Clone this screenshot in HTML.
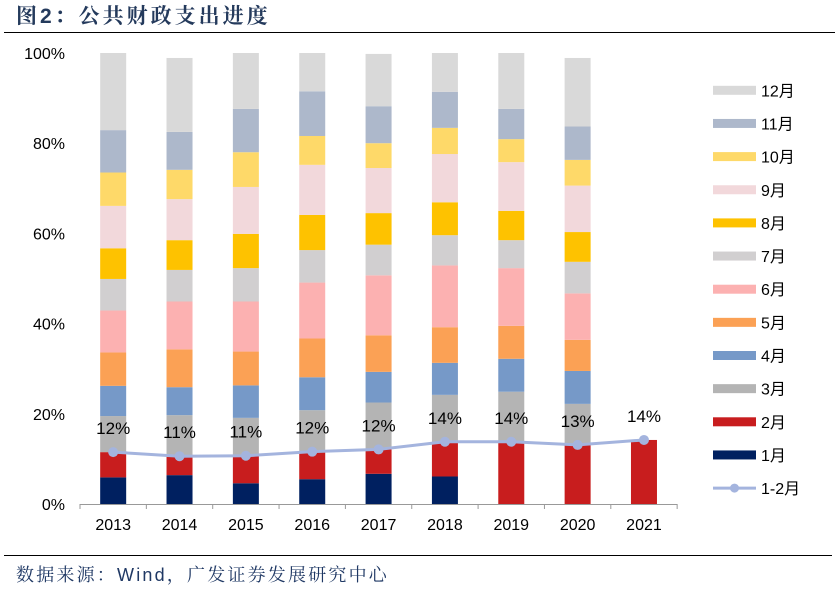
<!DOCTYPE html>
<html><head><meta charset="utf-8">
<style>
body{margin:0;background:#fff;}
#wrap{position:relative;width:835px;height:602px;overflow:hidden;font-family:"Liberation Sans","Noto Sans CJK SC",sans-serif;}
</style></head>
<body>
<div id="wrap">
<svg id="svg" width="835" height="602" xmlns="http://www.w3.org/2000/svg">
<text x="16" y="23" font-size="21" font-weight="bold" letter-spacing="3" fill="#243a5c" font-family="'Liberation Sans','Noto Serif CJK SC',serif">图2：公共财政支出进度</text>
<line x1="4" y1="32.5" x2="835" y2="32.5" stroke="#000" stroke-width="1"/>
<line x1="4" y1="555.5" x2="832" y2="555.5" stroke="#000" stroke-width="1"/>
<text x="16" y="581" font-size="18" letter-spacing="2.2" fill="#1f3864" font-family="'Liberation Sans','Noto Serif CJK SC',serif">数据来源：Wind，广发证券发展研究中心</text>
<g id="plot"></g>
</svg>
</div>
<script>
const years = ["2013","2014","2015","2016","2017","2018","2019","2020","2021"];
const months = ["1月","2月","3月","4月","5月","6月","7月","8月","9月","10月","11月","12月"];
const colors = ["#002060","#C81D1E","#B4B4B4","#7699C8","#FBA155","#FCB1B1","#D1CFD0","#FEC200","#F2D8DB","#FED969","#ADB8CB","#D9D9D9"];
// cumulative spending progress (%) at end of each month
const p2013 = [5.9,11.5,19.5,26.2,33.6,42.9,49.9,56.7,66.1,73.5,82.9,100];
const p2014 = [6.4,10.6,19.7,25.9,34.3,44.9,51.9,58.5,67.6,74.1,82.5,98.9];
const p2015 = [4.6,10.7,19.1,26.3,33.8,44.9,52.3,59.9,70.3,78.0,87.6,100];
const p2016 = [5.5,11.6,20.8,28.1,36.7,49.1,56.3,64.1,75.2,81.6,91.5,100];
const p2017 = [6.7,12.1,22.5,29.3,37.4,50.7,57.5,64.5,74.5,80.0,88.2,99.8];
const p2018 = [6.1,13.8,24.2,31.3,39.2,52.9,59.6,66.9,77.6,83.4,91.4,100];
const p2019 = [0,13.8,24.9,32.2,39.5,52.3,58.5,65.0,75.8,80.9,87.6,100];
const p2020 = [0,13.1,22.2,29.5,36.4,46.7,53.7,60.3,70.6,76.3,83.7,98.9];
const p2021 = [0,14.2];
const progress = [p2013,p2014,p2015,p2016,p2017,p2018,p2019,p2020,p2021];
const line12 = [11.5,10.6,10.7,11.6,12.1,13.8,13.8,13.1,14.2];
const yTicks = [0,20,40,60,80,100];

const NS="http://www.w3.org/2000/svg";
const g=document.getElementById('plot');
const x0=80, step=66.35, y0=504, yTop=53, bw=26;
const yS=v=>y0-(v/100)*(y0-yTop);
const xS=i=>x0+step*(i+0.5);
function mk(t,a){const e=document.createElementNS(NS,t);for(const k in a)e.setAttribute(k,a[k]);g.appendChild(e);return e;}

yTicks.forEach(v=>{
  const t=mk('text',{x:65,y:yS(v)+6,'font-size':16,'text-anchor':'end',fill:'#000'});
  t.textContent=v+'%';
  
  
});
progress.forEach((arr,i)=>{
  let prev=0;
  arr.forEach((c,m)=>{
    if(c>prev){
      const r=mk('rect',{x:xS(i)-bw/2,y:yS(c),width:bw,height:yS(prev)-yS(c),fill:colors[m]});
      
      
    }
    prev=Math.max(prev,c);
  });
});
const ax=mk('line',{x1:x0,y1:y0+0.5,x2:x0+step*years.length,y2:y0+0.5,stroke:'#999','stroke-width':1});


for(let i=0;i<=years.length;i++){
  const tk=mk('line',{x1:x0+step*i,y1:y0,x2:x0+step*i,y2:y0+5,stroke:'#999'});
  
  
}
years.forEach((y,i)=>{
  const t=mk('text',{x:xS(i),y:530,'font-size':16,'text-anchor':'middle',fill:'#000'});
  t.textContent=y;
  
  
});
const pts=line12.map((v,i)=>xS(i)+','+yS(v)).join(' ');
const pl=mk('polyline',{points:pts,fill:'none',stroke:'#A4B4DE','stroke-width':3});


line12.forEach((v,i)=>{
  const c=mk('circle',{cx:xS(i),cy:yS(v),r:5,fill:'#A4B4DE'});
  
  
  const t=mk('text',{x:xS(i),y:yS(v)-18,'font-size':17,'text-anchor':'middle',fill:'#000'});
  t.textContent=Math.round(v)+'%';
  
  
});
// legend
const ly0=90.3, lstep=33.15;
for(let k=0;k<12;k++){
  const m=11-k, cy=ly0+lstep*k;
  const r=mk('rect',{x:713,y:cy-4.5,width:43,height:9,fill:colors[m]});
  
  
  const t=mk('text',{x:761,y:cy+6,'font-size':16,fill:'#000'});
  t.textContent=months[m];
  
  
}
const lc=ly0+lstep*12;
const ll=mk('line',{x1:713,y1:lc,x2:756,y2:lc,stroke:'#A4B4DE','stroke-width':3});


const lcc=mk('circle',{cx:734.5,cy:lc,r:4.5,fill:'#A4B4DE'});


const lt=mk('text',{x:761,y:lc+6,'font-size':16,fill:'#000'});
lt.textContent='1-2月';


</script>
</body></html>
